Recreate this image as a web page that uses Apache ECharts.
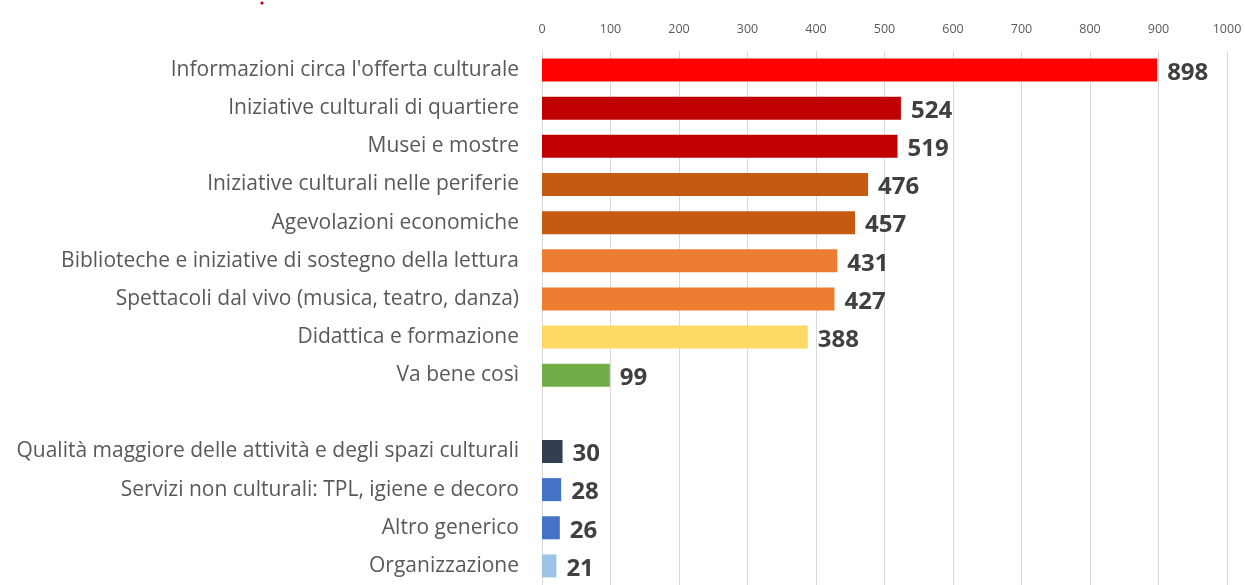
<!DOCTYPE html>
<html>
<head>
<meta charset="utf-8">
<script src="https://cdn.jsdelivr.net/npm/echarts@6/dist/echarts.min.js"></script>
<style>
html,body{margin:0;padding:0;background:#fff;}
#c{width:1245px;height:585px;}
</style>
</head>
<body>
<div id="c"></div>
<script>
var categories = [
  "Informazioni circa l'offerta culturale",
  "Iniziative culturali di quartiere",
  "Musei e mostre",
  "Iniziative culturali nelle periferie",
  "Agevolazioni economiche",
  "Biblioteche e iniziative di sostegno della lettura",
  "Spettacoli dal vivo (musica, teatro, danza)",
  "Didattica e formazione",
  "Va bene così",
  "",
  "Qualità maggiore delle attività e degli spazi culturali",
  "Servizi non culturali: TPL, igiene e decoro",
  "Altro generico",
  "Organizzazione"
];
var values = [898, 524, 519, 476, 457, 431, 427, 388, 99, null, 30, 28, 26, 21];
var barColors = ["#FF0000", "#C00000", "#C00000", "#C55A11", "#C55A11", "#ED7D31", "#ED7D31", "#FFD966", "#70AD47", "#FFFFFF", "#333F50", "#4472C4", "#4472C4", "#9DC3E6"];
var axisTicks = [0, 100, 200, 300, 400, 500, 600, 700, 800, 900, 1000];

var chart = echarts.init(document.getElementById('c'), null, {renderer: 'canvas'});
var font = '"Open Sans", sans-serif';
chart.setOption({
  animation: false,
  backgroundColor: '#ffffff',
  grid: {left: 542, right: 18, top: 51, bottom: -5, containLabel: false},
  xAxis: {
    type: 'value',
    position: 'top',
    min: axisTicks[0],
    max: axisTicks[axisTicks.length - 1],
    interval: 100,
    axisLine: {show: false},
    axisTick: {show: false},
    axisLabel: {color: '#595959', fontSize: 12.5, fontFamily: font, margin: 15,
      formatter: function (v) { return String(v); }},
    splitLine: {show: true, lineStyle: {color: '#D9D9D9', width: 1}}
  },
  yAxis: {
    type: 'category',
    inverse: true,
    data: categories,
    axisLine: {show: true, lineStyle: {color: '#D9D9D9'}},
    axisTick: {show: false},
    axisLabel: {color: '#595959', fontSize: 21, fontFamily: font, margin: 23, padding: [4, 0, 0, 0]}
  },
  series: [{
    type: 'bar',
    barWidth: 23,
    data: values.map(function (v, i) {
      return {value: v, itemStyle: {color: barColors[i]}};
    }),
    label: {
      show: true,
      position: 'right',
      distance: 10,
      color: '#404040',
      fontSize: 24,
      fontWeight: 'bold',
      fontFamily: font,
      offset: [0, 3],
      formatter: function (p) { return p.value == null ? '' : p.value; }
    }
  }],
  graphic: [{
    type: 'circle',
    shape: {cx: 262, cy: 3, r: 1.6},
    style: {fill: '#A50000'}
  }]
});
</script>
</body>
</html>
